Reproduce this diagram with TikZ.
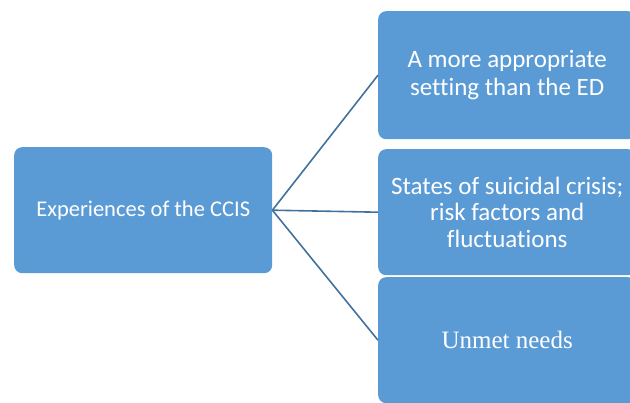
\documentclass[tikz,border=0pt]{standalone}
\usepackage{fontspec}
\setmainfont[Ligatures=NoCommon]{Carlito}
\newfontfamily\timesfont{Liberation Serif}
\definecolor{boxblue}{HTML}{5B9BD5}
\definecolor{lineblue}{HTML}{41719C}
\begin{document}
\begin{tikzpicture}[x=1pt,y=-1pt,
  box/.style={fill=boxblue,rounded corners=8pt,minimum width=258pt,minimum height=126pt,inner sep=0pt,text=white,align=center,anchor=north west},
  conn/.style={draw=lineblue,line width=1.6pt}]
\path[use as bounding box] (0,0) rectangle (630,403);
\clip (0,0) rectangle (630,403);
\node[box,font=\fontsize{22.5}{27}\selectfont] (src) at (14,147) {Experiences of the CCIS};
\node[box,minimum height=128pt,font=\fontsize{25}{28}\selectfont] (b1) at (378,11) {A more appropriate\\setting than the ED};
\node[box,font=\fontsize{25}{26.5}\selectfont] (b2) at (378,149) {States of suicidal crisis;\\risk factors and\\fluctuations};
\node[box,font=\timesfont\fontsize{25}{28}\selectfont] (b3) at (378,277) {Unmet needs};
\draw[conn] (src.east) -- (b1.west);
\draw[conn] (src.east) -- (b2.west);
\draw[conn] (src.east) -- (b3.west);
\end{tikzpicture}
\end{document}
